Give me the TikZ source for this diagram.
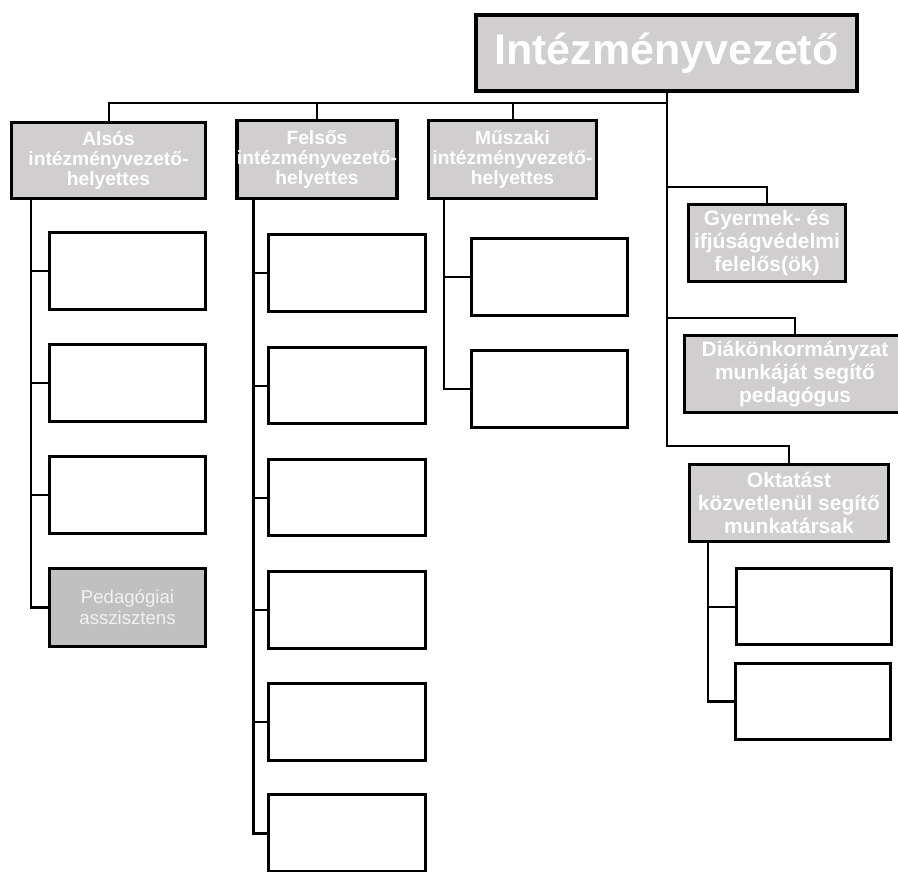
\documentclass[tikz,border=0pt]{standalone}
\usepackage{fontspec}
\setmainfont{Liberation Sans}
\definecolor{hdr}{RGB}{208,206,206}
\definecolor{ped}{RGB}{192,192,192}
\definecolor{pedtxt}{RGB}{242,242,242}
\newcommand{\mkbox}[7]{\node[#6, minimum width={(#4-#2-3.4)*1pt}, minimum height={(#5-#3-3.4)*1pt}] (#1) at ({(#2+#4)/2},{-(#3+#5)/2}) {#7};}
\tikzset{
  box/.style={draw=black, line width=3.4pt, rectangle, inner sep=0pt, outer sep=0pt, fill=white},
  hbox/.style={box, fill=hdr, text=white, font=\bfseries\fontsize{19.2}{20}\selectfont, align=center},
  rbox/.style={box, fill=hdr, text=white, font=\bfseries\fontsize{21}{23.3}\selectfont, align=center},
  pbox/.style={box, fill=ped, text=pedtxt, font=\fontsize{18.6}{21}\selectfont, align=center},
  conn/.style={line width=2pt},
  spine/.style={line width=2.6pt}
}
\begin{document}
\begin{tikzpicture}[x=1pt,y=1pt]
\useasboundingbox (0,0) rectangle (898,-872);
\clip (0,0) rectangle (898,-872);
% top
\node[box, fill=hdr, line width=4pt, text=white, font=\bfseries\fontsize{43}{48}\selectfont,
  minimum width=381pt, minimum height=76pt] (top) at (666.5,-53) {Intézményvezető};
% deputies
\mkbox{als}{10}{121}{207}{200}{hbox}{Alsós\\intézményvezető-\\helyettes}
\mkbox{fel}{237}{119}{397}{200}{hbox}{Felsős\\intézményvezető-\\helyettes}
\mkbox{mus}{427}{119}{598}{200}{hbox}{Műszaki\\intézményvezető-\\helyettes}
% alsos children
\mkbox{a1}{48}{231}{207}{311}{box}{}
\mkbox{a2}{48}{343}{207}{423}{box}{}
\mkbox{a3}{48}{455}{207}{535}{box}{}
\mkbox{a4}{48}{567}{207}{648}{pbox}{Pedagógiai\\asszisztens}
% felsos children
\mkbox{f1}{267}{233}{427}{313}{box}{}
\mkbox{f2}{267}{346}{427}{425}{box}{}
\mkbox{f3}{267}{458}{427}{537}{box}{}
\mkbox{f4}{267}{570}{427}{650}{box}{}
\mkbox{f5}{267}{682}{427}{762}{box}{}
\mkbox{f6}{267}{793}{427}{873}{box}{}
% muszaki children
\mkbox{m1}{470}{237}{629}{317}{box}{}
\mkbox{m2}{470}{349}{629}{429}{box}{}
% right side
\mkbox{gy}{687}{203}{847}{283}{rbox}{Gyermek- és\\ifjúságvédelmi\\felelős(ök)}
\mkbox{dk}{683}{334}{907}{414}{rbox}{Diákönkormányzat\\munkáját segítő\\pedagógus}
\mkbox{ok}{688}{463}{890}{543}{rbox}{Oktatást\\közvetlenül segítő\\munkatársak}
\mkbox{o1}{735}{567}{893}{646}{box}{}
\mkbox{o2}{734}{662}{892}{741}{box}{}
% helper coordinates
\coordinate (bar) at (0,-103);
\coordinate (gyb) at (0,-187);
\coordinate (dkb) at (0,-318);
\coordinate (okb) at (0,-446);
\coordinate (asp) at (31,0);
\coordinate (fsp) at (253,0);
\coordinate (msp) at (444,0);
\coordinate (osp) at (708,0);
% top bar
\draw[conn] (als.north) -- (als.north |- bar) -- (bar -| top.south) -- (top.south);
\draw[conn] (fel.north) -- (fel.north |- bar);
\draw[conn] (mus.north) -- (mus.north |- bar);
% right branches
\draw[conn] (top.south) |- (gy.north |- gyb) -- (gy.north);
\draw[conn] (top.south) |- (dk.north |- dkb) -- (dk.north);
\draw[conn] (top.south) |- (ok.north |- okb) -- (ok.north);
% spines
\draw[spine] (als.south -| asp) |- (a4.west);
\foreach \n in {a1,a2,a3} \draw[conn] (\n.west) -- (\n.west -| asp);
\draw[line width=3pt] (fel.south -| fsp) |- (f6.west);
\foreach \n in {f1,f2,f3,f4,f5} \draw[conn] (\n.west) -- (\n.west -| fsp);
\draw[spine] (mus.south -| msp) |- (m2.west);
\draw[conn] (m1.west) -- (m1.west -| msp);
\draw[spine] (ok.south -| osp) |- (o2.west);
\draw[conn] (o1.west) -- (o1.west -| osp);
\end{tikzpicture}
\end{document}
